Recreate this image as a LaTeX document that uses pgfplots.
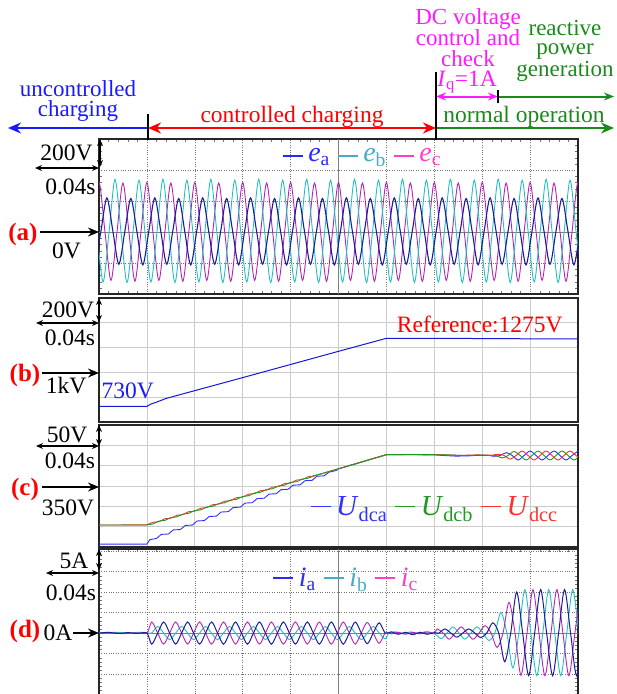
\documentclass[border=0pt]{standalone}
\usepackage{fontspec}
\setmainfont{Liberation Serif}
\usepackage{pgfplots}
\pgfplotsset{compat=1.18}
\usetikzlibrary{arrows.meta}

\definecolor{WA}{HTML}{1C1C9C}
\definecolor{WB}{HTML}{22C0C0}
\definecolor{WC}{HTML}{B424B4}
\definecolor{LA}{HTML}{2A2AFF}
\definecolor{LB}{HTML}{48AAC8}
\definecolor{LC}{HTML}{FF3FC8}
\definecolor{CB}{HTML}{3030FF}
\definecolor{CG}{HTML}{1F9A1F}
\definecolor{CR}{HTML}{FF3030}
\definecolor{TBlue}{HTML}{1A1AFF}
\definecolor{TRed}{HTML}{FF0000}
\definecolor{TMag}{HTML}{FF1AFF}
\definecolor{TGreen}{HTML}{1A8A1A}

\newcommand{\lb}{\fontsize{23.5}{21}\selectfont}
\newcommand{\pl}{\fontsize{25}{25}\selectfont\bfseries}

\pgfplotsset{
  osc/.style={scale only axis, width=479pt, xmin=0, xmax=10, xtick={0,...,10},
    xticklabels={}, yticklabels={}, axis line style={line width=1.5pt, black!85},
    major tick length=0pt, grid=major, clip=true, legend columns=-1,
    legend image code/.code={\draw[line width=1.4pt] (0pt,0pt) -- (20pt,0pt);},
    legend style={draw=none, fill=none, inner sep=0pt,
      /tikz/every odd column/.append style={column sep=3pt},
      /tikz/every even column/.append style={column sep=5pt}}},
  dotgrid/.style={major grid style={black!55, dotted, line width=0.6pt},
    extra x ticks={5}, extra x tick labels={}, extra y ticks={0}, extra y tick labels={},
    extra tick style={major grid style={solid, black!50, line width=0.9pt}},
    minor x tick num=4, minor tick length=3pt, minor tick style={black!55}},
  solidgrid/.style={major grid style={black!20, line width=0.7pt}},
}

\begin{document}
\begin{tikzpicture}
% ---------------- panel (a)
\begin{axis}[osc, dotgrid, at={(99pt,-139pt)}, anchor=north west, height=155pt,
  ymin=-400, ymax=600, ytick={-400,-200,...,600}, minor y tick num=4,
  legend style={at={(axis cs:5.5,490)}, anchor=center, font=\fontsize{28}{30}\selectfont}]
\addplot[WC, line width=0.9pt, smooth, forget plot] coordinates {
(-0.125,0)
(0,320) (0.125,0) (0.25,-312) (0.375,0) (0.5,316) (0.625,0) (0.75,-318) (0.875,0)
(1,320) (1.125,0) (1.25,-312) (1.375,0) (1.5,316) (1.625,0) (1.75,-318) (1.875,0)
(2,320) (2.125,0) (2.25,-312) (2.375,0) (2.5,316) (2.625,0) (2.75,-318) (2.875,0)
(3,320) (3.125,0) (3.25,-312) (3.375,0) (3.5,316) (3.625,0) (3.75,-318) (3.875,0)
(4,320) (4.125,0) (4.25,-312) (4.375,0) (4.5,316) (4.625,0) (4.75,-318) (4.875,0)
(5,320) (5.125,0) (5.25,-312) (5.375,0) (5.5,316) (5.625,0) (5.75,-318) (5.875,0)
(6,320) (6.125,0) (6.25,-312) (6.375,0) (6.5,316) (6.625,0) (6.75,-318) (6.875,0)
(7,320) (7.125,0) (7.25,-312) (7.375,0) (7.5,316) (7.625,0) (7.75,-318) (7.875,0)
(8,320) (8.125,0) (8.25,-312) (8.375,0) (8.5,316) (8.625,0) (8.75,-318) (8.875,0)
(9,320) (9.125,0) (9.25,-312) (9.375,0) (9.5,316) (9.625,0) (9.75,-318) (9.875,0)
(10,320) (10.125,0)};
\addplot[WB, line width=0.9pt, smooth, forget plot] coordinates {
(-0.04,0)
(0.085,-322) (0.21,0) (0.335,340) (0.46,0) (0.585,-326) (0.71,0) (0.835,334) (0.96,0)
(1.085,-322) (1.21,0) (1.335,340) (1.46,0) (1.585,-326) (1.71,0) (1.835,334) (1.96,0)
(2.085,-322) (2.21,0) (2.335,340) (2.46,0) (2.585,-326) (2.71,0) (2.835,334) (2.96,0)
(3.085,-322) (3.21,0) (3.335,340) (3.46,0) (3.585,-326) (3.71,0) (3.835,334) (3.96,0)
(4.085,-322) (4.21,0) (4.335,340) (4.46,0) (4.585,-326) (4.71,0) (4.835,334) (4.96,0)
(5.085,-322) (5.21,0) (5.335,340) (5.46,0) (5.585,-326) (5.71,0) (5.835,334) (5.96,0)
(6.085,-322) (6.21,0) (6.335,340) (6.46,0) (6.585,-326) (6.71,0) (6.835,334) (6.96,0)
(7.085,-322) (7.21,0) (7.335,340) (7.46,0) (7.585,-326) (7.71,0) (7.835,334) (7.96,0)
(8.085,-322) (8.21,0) (8.335,340) (8.46,0) (8.585,-326) (8.71,0) (8.835,334) (8.96,0)
(9.085,-322) (9.21,0) (9.335,340) (9.46,0) (9.585,-326) (9.71,0) (9.835,334) (9.96,0)
(10.085,-322)};
\addplot[WA, line width=1.1pt, smooth, forget plot] coordinates {
(-0.085,-210)
(0.04,5) (0.165,220) (0.29,5) (0.415,-208) (0.54,5) (0.665,216) (0.79,5) (0.915,-212)
(1.04,5) (1.165,220) (1.29,5) (1.415,-208) (1.54,5) (1.665,216) (1.79,5) (1.915,-212)
(2.04,5) (2.165,220) (2.29,5) (2.415,-208) (2.54,5) (2.665,216) (2.79,5) (2.915,-212)
(3.04,5) (3.165,220) (3.29,5) (3.415,-208) (3.54,5) (3.665,216) (3.79,5) (3.915,-212)
(4.04,5) (4.165,220) (4.29,5) (4.415,-208) (4.54,5) (4.665,216) (4.79,5) (4.915,-212)
(5.04,5) (5.165,220) (5.29,5) (5.415,-208) (5.54,5) (5.665,216) (5.79,5) (5.915,-212)
(6.04,5) (6.165,220) (6.29,5) (6.415,-208) (6.54,5) (6.665,216) (6.79,5) (6.915,-212)
(7.04,5) (7.165,220) (7.29,5) (7.415,-208) (7.54,5) (7.665,216) (7.79,5) (7.915,-212)
(8.04,5) (8.165,220) (8.29,5) (8.415,-208) (8.54,5) (8.665,216) (8.79,5) (8.915,-212)
(9.04,5) (9.165,220) (9.29,5) (9.415,-208) (9.54,5) (9.665,216) (9.79,5) (9.915,-212)
(10.04,5)};
\addlegendimage{LA, line width=1.4pt}
\addlegendentry{\textcolor{LA}{\textit{e}\textsubscript{a}}}
\addlegendimage{LB, line width=1.4pt}
\addlegendentry{\textcolor{LB}{\textit{e}\textsubscript{b}}}
\addlegendimage{LC, line width=1.4pt}
\addlegendentry{\textcolor{LC}{\textit{e}\textsubscript{c}}}
\end{axis}

% ---------------- panel (b)
\begin{axis}[osc, solidgrid, at={(99pt,-298pt)}, anchor=north west, height=124pt,
  ymin=600, ymax=1600, ytick={600,800,...,1600}]
\addplot[TBlue!85!black, line width=1pt] coordinates {
(0,726) (1.0,726) (1.08,744) (1.2,760) (1.4,790) (2,853) (3,958) (4,1064) (5,1170)
(6.0,1275) (7,1275) (8,1273) (9,1271) (10,1270)};
\node[text=TRed, font=\lb] at (axis cs:7.95,1386) {Reference:1275V};
\node[text=TBlue, font=\lb] at (axis cs:0.6,850) {730V};
\end{axis}

% ---------------- panel (c)
\begin{axis}[osc, solidgrid, at={(99pt,-425pt)}, anchor=north west, height=122pt,
  ymin=200, ymax=500, ytick={200,250,...,500},
  legend style={at={(axis cs:7.01,299)}, anchor=center, font=\fontsize{29}{30}\selectfont}]
\addplot[CB, line width=0.9pt, forget plot] coordinates {
(0,207) (1.0,207) (1.06,218) (1.2,221) (1.3,231) (1.45,232) (1.55,242) (1.7,243)
(1.8,253) (1.95,254) (2.05,264) (2.2,265) (2.3,275) (2.45,276) (2.55,286) (2.7,287)
(2.8,297) (2.95,298) (3.05,308) (3.2,309) (3.3,319) (3.45,320) (3.55,330) (3.7,331)
(3.8,341) (3.95,342) (4.05,352) (4.2,353) (4.3,363) (4.45,364) (4.55,374) (4.7,375)
(4.8,384) (4.95,388) (5.0,392.4) (5.125,396.5) (5.25,401) (5.375,405) (5.5,409.7)
(5.625,414) (5.75,418.4) (5.875,422.7) (6.0,427) (6.5,427) (7.0,426.5) (7.2,425)
(7.45,423.5) (7.7,424) (7.9,425.5) (8.1,425.5)};
\addplot[CB, line width=0.9pt, smooth, forget plot] coordinates {
(8.1,425.5) (8.15,425) (8.25,423) (8.375,425) (8.5,432) (8.625,425) (8.75,414)
(8.875,425) (9.0,436) (9.125,425) (9.25,414) (9.375,425) (9.5,436) (9.625,425)
(9.75,414) (9.875,425) (10.0,436)};
\addplot[CR, line width=0.9pt, forget plot] coordinates {
(0,254) (1.0,254.5) (1.125,260.8) (1.25,262.2) (1.375,269.5) (1.5,270.8) (1.625,278.1)
(1.75,279.5) (1.875,286.8) (2.0,288.1) (2.125,295.4) (2.25,296.8) (2.375,304.1)
(2.5,305.4) (2.625,312.7) (2.75,314.1) (2.875,321.4) (3.0,322.7) (3.125,330.0)
(3.25,331.4) (3.375,338.7) (3.5,340.0) (3.625,347.3) (3.75,348.7) (3.875,356.0)
(4.0,357.3) (4.125,364.6) (4.25,366.0) (4.375,373.3) (4.5,374.6) (4.625,379.9)
(4.75,383.3) (4.875,388.6) (5.0,391.9) (5.125,397.2) (5.25,400.6) (5.375,405.9)
(5.5,409.2) (5.625,414.5) (5.75,417.9) (5.875,423.2) (6.0,427) (6.5,427) (7.0,427.5)
(7.3,426) (7.6,425.5) (7.9,426.5) (8.2,425.5)};
\addplot[CR, line width=0.9pt, smooth, forget plot] coordinates {
(8.2,425.5) (8.3333,428) (8.4583,425) (8.5833,416) (8.7083,425) (8.8333,436)
(8.9583,425) (9.0833,414) (9.2083,425) (9.3333,436) (9.4583,425) (9.5833,414)
(9.7083,425) (9.8333,436) (9.9583,425) (10.0833,414)};
\addplot[CG, line width=0.9pt, forget plot] coordinates {
(0,254) (1.0,254) (1.125,256.8) (1.25,263.7) (1.375,265.5) (1.5,272.3) (1.625,274.1)
(1.75,281.0) (1.875,282.8) (2.0,289.6) (2.125,291.4) (2.25,298.3) (2.375,300.1)
(2.5,306.9) (2.625,308.7) (2.75,315.6) (2.875,317.4) (3.0,324.2) (3.125,326.0)
(3.25,332.9) (3.375,334.7) (3.5,341.5) (3.625,343.3) (3.75,350.2) (3.875,352.0)
(4.0,358.8) (4.125,360.6) (4.25,367.5) (4.375,369.3) (4.5,376.1) (4.625,378.9)
(4.75,384.3) (4.875,387.6) (5.0,392.9) (5.125,396.2) (5.25,401.6) (5.375,404.9)
(5.5,410.2) (5.625,413.5) (5.75,418.9) (5.875,422.2) (6.0,427) (6.5,427.5) (7.0,427)
(7.3,426.5) (7.6,425) (7.9,426) (8.2,425.5)};
\addplot[CG, line width=0.9pt, smooth, forget plot] coordinates {
(8.2,425.5) (8.2917,425) (8.4167,419) (8.5417,425) (8.6667,435) (8.7917,425)
(8.9167,414) (9.0417,425) (9.1667,436) (9.2917,425) (9.4167,414) (9.5417,425)
(9.6667,436) (9.7917,425) (9.9167,414) (10.0417,425)};
\addlegendimage{CB, line width=1.4pt}
\addlegendentry{\textcolor{CB}{\textit{U}\textsubscript{dca}}}
\addlegendimage{CG, line width=1.4pt}
\addlegendentry{\textcolor{CG}{\textit{U}\textsubscript{dcb}}}
\addlegendimage{CR, line width=1.4pt}
\addlegendentry{\textcolor{CR}{\textit{U}\textsubscript{dcc}}}
\end{axis}

% ---------------- panel (d)
\begin{axis}[osc, dotgrid, at={(99pt,-549pt)}, anchor=north west, height=149.65pt,
  ymin=-16, ymax=20.5, ytick={-15,-10,...,20}, minor y tick num=4,
  legend style={at={(axis cs:5.16,13.4)}, anchor=center, font=\fontsize{28}{30}\selectfont}]
\addplot[WB, line width=0.9pt, smooth, forget plot] coordinates {
(0,0.1) (0.3,0.2) (0.6,0.05) (0.9,0.2) (1.0,0.1)
(1.1,0) (1.225,1.6) (1.35,0) (1.475,-1.6) (1.6,0) (1.725,1.6) (1.85,0) (1.975,-1.6)
(2.1,0) (2.225,1.6) (2.35,0) (2.475,-1.6) (2.6,0) (2.725,1.6) (2.85,0) (2.975,-1.6)
(3.1,0) (3.225,1.6) (3.35,0) (3.475,-1.6) (3.6,0) (3.725,1.6) (3.85,0) (3.975,-1.6)
(4.1,0) (4.225,1.6) (4.35,0) (4.475,-1.6) (4.6,0) (4.725,1.6) (4.85,0) (4.975,-1.6)
(5.1,0) (5.225,1.6) (5.35,0) (5.475,-1.6) (5.6,0) (5.725,1.6) (5.85,0) (5.975,-1.4)
(6.05,0) (6.2,0.3) (6.35,-0.2) (6.5,0.3) (6.65,-0.1) (6.8,0.3) (6.95,0)
(7.05,-0.5) (7.14,-1.4) (7.265,0) (7.39,1.5) (7.515,0) (7.64,-1.5) (7.765,0) (7.89,1.5)
(8.015,0) (8.14,-1.8) (8.265,0) (8.39,5.0) (8.515,0) (8.64,-8.5) (8.765,0) (8.89,10.6)
(9.015,0) (9.14,-10.4) (9.265,0) (9.39,10.6) (9.515,0) (9.64,-10.4) (9.765,0) (9.89,10.6)
(10.015,0)};
\addplot[WC, line width=0.9pt, smooth, forget plot] coordinates {
(0,-0.1) (0.25,0.1) (0.5,-0.15) (0.75,0.05) (1.0,0)
(1.1,2.7) (1.225,0) (1.35,-2.7) (1.475,0) (1.6,2.7) (1.725,0) (1.85,-2.7) (1.975,0)
(2.1,2.7) (2.225,0) (2.35,-2.7) (2.475,0) (2.6,2.7) (2.725,0) (2.85,-2.7) (2.975,0)
(3.1,2.7) (3.225,0) (3.35,-2.7) (3.475,0) (3.6,2.7) (3.725,0) (3.85,-2.7) (3.975,0)
(4.1,2.7) (4.225,0) (4.35,-2.7) (4.475,0) (4.6,2.7) (4.725,0) (4.85,-2.7) (4.975,0)
(5.1,2.7) (5.225,0) (5.35,-2.7) (5.475,0) (5.6,2.6) (5.725,0) (5.85,-2.5) (5.975,0)
(6.1,-0.2) (6.25,0.2) (6.4,-0.3) (6.55,0.2) (6.7,-0.2) (6.85,0.3) (7.0,0)
(7.06,1.0) (7.185,0) (7.31,-1.5) (7.435,0) (7.56,1.5) (7.685,0) (7.81,-1.5) (7.935,0)
(8.06,1.8) (8.185,0) (8.31,-3.5) (8.435,0) (8.56,7.5) (8.685,0) (8.81,-10.3) (8.935,0)
(9.06,10.6) (9.185,0) (9.31,-10.4) (9.435,0) (9.56,10.6) (9.685,0) (9.81,-10.4) (9.935,0)
(10.06,10.6)};
\addplot[WA, line width=1pt, smooth, forget plot] coordinates {
(0,0) (0.2,0.15) (0.4,-0.1) (0.6,0.1) (0.8,-0.1) (1.0,0)
(1.1,-2.7) (1.225,0) (1.35,2.7) (1.475,0) (1.6,-2.7) (1.725,0) (1.85,2.7) (1.975,0)
(2.1,-2.7) (2.225,0) (2.35,2.7) (2.475,0) (2.6,-2.7) (2.725,0) (2.85,2.7) (2.975,0)
(3.1,-2.7) (3.225,0) (3.35,2.7) (3.475,0) (3.6,-2.7) (3.725,0) (3.85,2.7) (3.975,0)
(4.1,-2.7) (4.225,0) (4.35,2.7) (4.475,0) (4.6,-2.7) (4.725,0) (4.85,2.7) (4.975,0)
(5.1,-2.7) (5.225,0) (5.35,2.7) (5.475,0) (5.6,-2.6) (5.725,0) (5.85,2.5) (5.975,0)
(6.1,0.3) (6.25,-0.3) (6.4,0.2) (6.55,-0.4) (6.7,0.2) (6.85,-0.3) (7.0,0.1)
(7.095,0) (7.22,1.0) (7.345,0) (7.47,-1.0) (7.595,0) (7.72,1.0) (7.845,0) (7.97,-1.1)
(8.095,0) (8.22,2.5) (8.345,0) (8.47,-7.0) (8.595,0) (8.72,10.0) (8.845,0) (8.97,-10.4)
(9.095,0) (9.22,10.6) (9.345,0) (9.47,-10.4) (9.595,0) (9.72,10.6) (9.845,0) (9.97,-10.4)
(10.095,0)};
\addlegendimage{LA, line width=1.4pt}
\addlegendentry{\textcolor{LA}{\textit{i}\textsubscript{a}}}
\addlegendimage{LB, line width=1.4pt}
\addlegendentry{\textcolor{LB}{\textit{i}\textsubscript{b}}}
\addlegendimage{LC, line width=1.4pt}
\addlegendentry{\textcolor{LC}{\textit{i}\textsubscript{c}}}
\end{axis}

% ---------------- annotations
\begin{scope}[x=1pt, y=-1pt]
\tikzset{big/.style={-{Stealth[length=13pt,width=11pt]}}, bigb/.style={{Stealth[length=13pt,width=11pt]}-{Stealth[length=13pt,width=11pt]}},
  mid/.style={-{Stealth[length=10pt,width=8pt]}}, midb/.style={{Stealth[length=10pt,width=8pt]}-{Stealth[length=10pt,width=8pt]}},
  sm/.style={{Stealth[length=7pt,width=6pt]}-{Stealth[length=7pt,width=6pt]}, line width=1.2pt},
  pa/.style={-{Stealth[length=11pt,width=9pt]}, line width=1.6pt}}
\draw[TBlue, line width=2.2pt, big] (148,128) -- (8,128);
\draw[TRed, line width=2.2pt, bigb] (148,128) -- (436,128);
\draw[TGreen, line width=2.2pt, big] (436,128) -- (614,128);
\draw[TMag, line width=2pt, midb] (436,96.5) -- (498,96.5);
\draw[TGreen, line width=2pt, mid] (498,96.5) -- (614,96.5);
\draw[black, line width=2pt] (148,114) -- (148,140);
\draw[black, line width=2pt] (436,72) -- (436,140);
\draw[black, line width=1.6pt] (498,90) -- (498,103);
\node[anchor=north, inner sep=0pt, align=center, text=TBlue, font=\fontsize{23}{19.5}\selectfont] at (78,80.5) {uncontrolled\\charging};
\node[anchor=base, text=TRed, font=\lb] at (292,122) {controlled charging};
\node[anchor=base, text=TGreen, font=\lb] at (524,122) {normal operation};
\node[anchor=north, inner sep=0pt, align=center, text=TMag, font=\fontsize{23}{21.2}\selectfont] at (468,8) {DC voltage\\control and\\check};
\node[anchor=base, text=TMag, font=\lb] at (467,86) {\textit{I}\textsubscript{q}=1A};
\node[anchor=north, inner sep=0pt, align=center, text=TGreen, font=\fontsize{23}{19.5}\selectfont] at (565,20) {reactive\\power\\generation};
% panel a labels
\draw[sm] (100,139) -- (100,167);
\draw[sm] (35,168) -- (99,168);
\node[anchor=base, font=\lb] at (66.5,160.7) {200V};
\node[anchor=base, font=\lb] at (70.5,194) {0.04s};
\node[anchor=base, font=\pl, text=TRed] at (23,240) {(a)};
\draw[pa] (40,232) -- (99,232);
\node[anchor=base, font=\lb] at (66.5,258) {0V};
% panel b labels
\draw[sm] (99,298) -- (99,322);
\draw[sm] (36,323) -- (99,323);
\node[anchor=base, font=\lb] at (68,317) {200V};
\node[anchor=base, font=\lb] at (70,345) {0.04s};
\node[anchor=base, font=\pl, text=TRed] at (25,381) {(b)};
\draw[pa] (42,373) -- (99,373);
\node[anchor=base, font=\lb] at (66,393) {1kV};
% panel c labels
\draw[sm] (99,425) -- (99,446);
\draw[sm] (36,446) -- (99,446);
\node[anchor=base, font=\lb] at (67,442) {50V};
\node[anchor=base, font=\lb] at (70,468) {0.04s};
\node[anchor=base, font=\pl, text=TRed] at (25,495) {(c)};
\draw[pa] (42,487) -- (99,487);
\node[anchor=base, font=\lb] at (68,515) {350V};
% panel d labels
\draw[sm] (99,549) -- (99,570);
\draw[sm] (46,573) -- (99,573);
\node[anchor=base, font=\lb] at (74,568) {5A};
\node[anchor=base, font=\lb] at (71,600) {0.04s};
\node[anchor=base, font=\pl, text=TRed] at (25,637) {(d)};
\node[anchor=base, font=\lb] at (58,640) {0A};
\draw[pa] (73,633) -- (99,633);
\end{scope}
\pgfresetboundingbox
\useasboundingbox (0pt,0pt) rectangle (617pt,-694pt);
\end{tikzpicture}
\end{document}
